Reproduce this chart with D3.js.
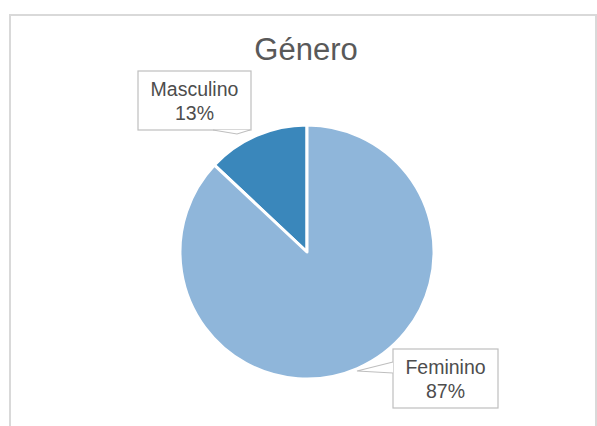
<!DOCTYPE html>
<html lang="es">
<head>
    <meta charset="UTF-8">
    <title>Género</title>
    <script src="https://d3js.org/d3.v7.min.js"></script>
    <style>
        body { margin: 0; background: #fff; }
        text { font-family: "Liberation Sans", Arial, sans-serif; }
    </style>
</head>
<body>
<svg width="597" height="426"></svg>

<script>
    var categories = ["Masculino", "Feminino"];
    var values = [13, 87];
    var colors = ["#3a87bb", "#8fb6da"];

    var svg = d3.select("svg"),
        width = +svg.attr("width"),
        height = +svg.attr("height");

    // chart frame (only top, left, right visible)
    svg.append("path")
        .attr("d", "M10,440V15H596V440")
        .attr("fill", "none")
        .attr("stroke", "#d9d9d9")
        .attr("stroke-width", 2);

    svg.append("text")
        .attr("x", 306)
        .attr("y", 60)
        .attr("text-anchor", "middle")
        .attr("font-size", 31)
        .attr("fill", "#595959")
        .text("Género");

    var cx = 307, cy = 252, r = 127;

    // Masculino goes counterclockwise from 12 o'clock
    var pie = d3.pie().sort(null).startAngle(0).endAngle(-2 * Math.PI);
    var arcs = pie(values);
    var arc = d3.arc().innerRadius(0).outerRadius(r);

    var g = svg.append("g").attr("transform", "translate(" + cx + "," + cy + ")");
    g.selectAll("path")
        .data(arcs)
        .enter().append("path")
        .attr("d", arc)
        .attr("fill", function (d, i) { return colors[i]; })
        .attr("stroke", "#fff")
        .attr("stroke-width", 3)
        .attr("stroke-linejoin", "round");

    // callout labels
    var labels = [
        {x: 138, y: 71, w: 113, h: 59, pointer: "M213,130L237,134L250,130"},
        {x: 393, y: 349, w: 105, h: 59, pointer: "M393,362L357,371L393,373"}
    ];

    var lab = svg.selectAll("g.label")
        .data(labels)
        .enter().append("g")
        .attr("class", "label");

    lab.append("rect")
        .attr("x", function (d) { return d.x; })
        .attr("y", function (d) { return d.y; })
        .attr("width", function (d) { return d.w; })
        .attr("height", function (d) { return d.h; })
        .attr("fill", "#fff")
        .attr("stroke", "#bfbfbf")
        .attr("stroke-width", 1.2);

    lab.append("path")
        .attr("d", function (d) { return d.pointer; })
        .attr("fill", "#fff")
        .attr("stroke", "#bfbfbf")
        .attr("stroke-width", 1.2);

    lab.append("text")
        .attr("x", function (d) { return d.x + d.w / 2; })
        .attr("y", function (d) { return d.y + 25; })
        .attr("text-anchor", "middle")
        .attr("font-size", 19.5)
        .attr("fill", "#4d4d4d")
        .text(function (d, i) { return categories[i]; });

    lab.append("text")
        .attr("x", function (d) { return d.x + d.w / 2; })
        .attr("y", function (d) { return d.y + 49; })
        .attr("text-anchor", "middle")
        .attr("font-size", 19.5)
        .attr("fill", "#4d4d4d")
        .text(function (d, i) { return values[i] + "%"; });
</script>

</body>
</html>
